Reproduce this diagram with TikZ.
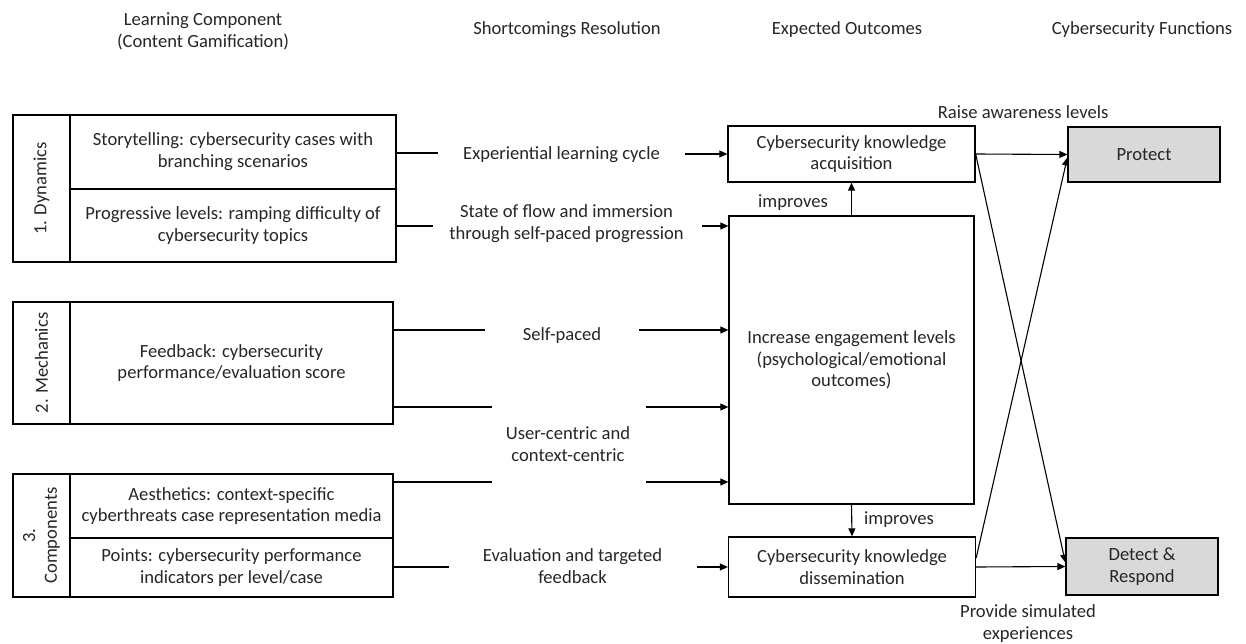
\documentclass[tikz,border=0pt]{standalone}
\usepackage{fontspec}
\setmainfont{Carlito}
\usetikzlibrary{arrows.meta}

\tikzset{
    box/.style={draw, line width=1.3pt, inner sep=0pt, align=center},
    fbox/.style={box, fill=black!15},
    txt/.style={align=center},
}

\begin{document}
\begin{tikzpicture}[x=1pt, y=-1pt, line width=1.1pt,
    >={Triangle[length=8pt, width=7pt]},
    every node/.style={font=\fontsize{18.6}{21.8}\selectfont, text=black!85}]
    \useasboundingbox (0,0) rectangle (1246,644);

    % 标题
    \node[txt] (hdrL) at (203,31.5) {Learning Component\\(Content Gamification)};
    \node (hdrS) at (567,30) {Shortcomings Resolution};
    \node (hdrE) at (847,30) {Expected Outcomes};
    \node (hdrF) at (1142,30) {Cybersecurity Functions};

    % 1. Dynamics
    \node[box, minimum width=147pt, minimum height=57pt, rotate=90] (dyn) at (41.5,188.5) {1. Dynamics};
    \node[box, minimum width=326pt, minimum height=74pt] (story) at (233,152)
        {Storytelling: cybersecurity cases with\\branching scenarios};
    \node[box, minimum width=326pt, minimum height=73pt] (prog) at (233,225.5)
        {Progressive levels: ramping difficulty of\\cybersecurity topics};

    % 2. Mechanics
    \node[box, minimum width=122pt, minimum height=57pt, rotate=90] (mech) at (41.5,363) {2. Mechanics};
    \node[box, minimum width=323pt, minimum height=122pt] (feed) at (231.5,363)
        {Feedback: cybersecurity\\performance/evaluation score};

    % 3. Components
    \node[box, minimum width=123pt, minimum height=57pt, rotate=90] (comp) at (41.5,535.5) {3.\\Components};
    \node[box, minimum width=323pt, minimum height=64pt] (aest) at (231.5,506)
        {Aesthetics: context-specific\\cyberthreats case representation media};
    \node[box, minimum width=323pt, minimum height=59pt] (points) at (231.5,567.5)
        {Points: cybersecurity performance\\indicators per level/case};

    % Expected outcomes
    \node[box, minimum width=247pt, minimum height=56pt] (acq) at (851.5,154)
        {Cybersecurity knowledge\\acquisition};
    \node[box, minimum width=245pt, minimum height=288pt] (eng) at (851.5,360)
        {Increase engagement levels\\(psychological/emotional\\outcomes)};
    \node[box, minimum width=247pt, minimum height=60pt] (diss) at (852,567)
        {Cybersecurity knowledge\\dissemination};

    % Cybersecurity functions
    \node[fbox, minimum width=152pt, minimum height=55pt] (prot) at (1144,154.5) {Protect};
    \node[fbox, minimum width=152pt, minimum height=57pt] (det) at (1142,566.5) {Detect \&\\Respond};

    % Shortcomings resolution
    \node (exp) at (561.5,155) {Experiential learning cycle};
    \node[txt] (flow) at (566.5,224) {State of flow and immersion\\through self-paced progression};
    \node (selfp) at (562,336) {Self-paced};
    \node[txt] (user) at (568,444.5) {User-centric and\\context-centric};
    \node[txt] (eval) at (572.5,566) {Evaluation and targeted\\feedback};

    \node (imp1) at (793,203) {improves};
    \node (imp2) at (899,520) {improves};
    \node (raise) at (1023,112) {Raise awareness levels};
    \node[txt] (prov) at (1028,623.5) {Provide simulated\\experiences};

    % 连线端点
    \coordinate (s1) at (438,153);
    \coordinate (a1) at (685,154);
    \coordinate (s2) at (433,226);
    \coordinate (a2) at (702,226);
    \coordinate (s3) at (485,330);
    \coordinate (a3) at (639,330);
    \coordinate (s4) at (492,407);
    \coordinate (a4) at (646,407);
    \coordinate (s5) at (492,482);
    \coordinate (a5) at (646,482);
    \coordinate (s6) at (449,567);
    \coordinate (a6) at (697,567);

    % 左侧 -> 中间
    \draw (s1 -| story.east) -- (s1);
    \draw[->] (a1) -- (a1 -| acq.west);
    \draw (s2 -| prog.east) -- (s2);
    \draw[->] (a2) -- (a2 -| eng.west);
    \draw (s3 -| feed.east) -- (s3);
    \draw[->] (a3) -- (a3 -| eng.west);
    \draw (s4 -| feed.east) -- (s4);
    \draw[->] (a4) -- (a4 -| eng.west);
    \draw (s5 -| aest.east) -- (s5);
    \draw[->] (a5) -- (a5 -| eng.west);
    \draw (s6 -| points.east) -- (s6);
    \draw[->] (a6) -- (a6 -| diss.west);

    % improves
    \draw[->] (eng.north) -- (acq.south);
    \draw[->] (eng.south) -- (diss.north);

    % 交叉箭头
    \draw[->] (acq.east) -- (prot.west);
    \draw[->] (acq.east) -- ([yshift=4pt]det.west);
    \draw[->] ([yshift=9pt]diss.east) -- ([yshift=-3pt]prot.west);
    \draw[->] (diss.east) -- (det.west);
\end{tikzpicture}
\end{document}
